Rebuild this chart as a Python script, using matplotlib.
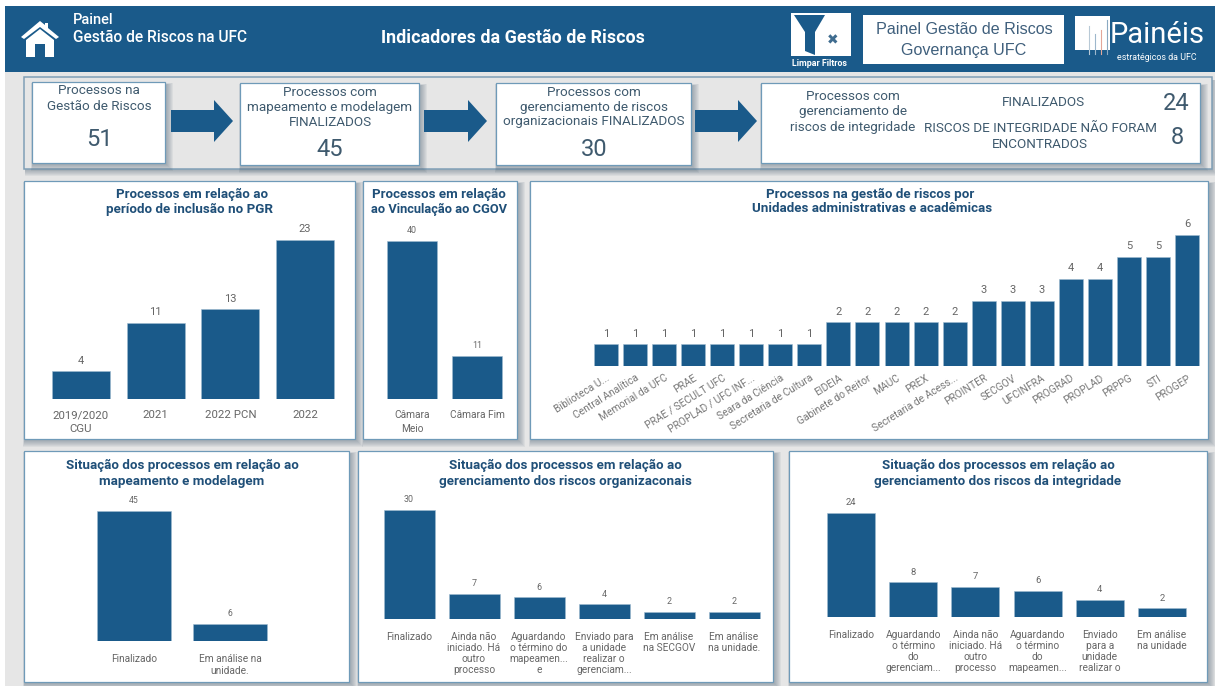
import matplotlib
matplotlib.use("Agg")
import matplotlib.pyplot as plt
from matplotlib.patches import Rectangle, Polygon

plt.rcParams['font.family'] = ['Roboto', 'DejaVu Sans']

W, H = 1215, 686
BLUE = '#1a5a8a'
EDGE = '#6f9ab8'
TXT = '#3f5a6e'
TITLE = '#1f4f78'
TICK = '#666666'

# ---- data ----
per_labels = ['2019/2020\nCGU', '2021', '2022 PCN', '2022']
per_values = [4, 11, 13, 23]
vin_labels = ['Câmara\nMeio', 'Câmara Fim']
vin_values = [40, 11]
uni_labels = ['Biblioteca U...', 'Central Analítica', 'Memorial da UFC', 'PRAE', 'PRAE / SECULT UFC',
              'PROPLAD / UFC INF...', 'Seara da Ciência', 'Secretaria de Cultura', 'EIDEIA',
              'Gabinete do Reitor', 'MAUC', 'PREX', 'Secretaria de Acess...', 'PROINTER', 'SECGOV',
              'UFCINFRA', 'PROGRAD', 'PROPLAD', 'PRPPG', 'STI', 'PROGEP']
uni_values = [1, 1, 1, 1, 1, 1, 1, 1, 2, 2, 2, 2, 2, 3, 3, 3, 4, 4, 5, 5, 6]
map_labels = ['Finalizado', 'Em análise na\nunidade.']
map_values = [45, 6]
org_labels = ['Finalizado', 'Ainda não\niniciado. Há\noutro\nprocesso',
              'Aguardando\no término do\nmapeamen...\ne', 'Enviado para\na unidade\nrealizar o\ngerenciam...',
              'Em análise\nna SECGOV', 'Em análise\nna unidade.']
org_values = [30, 7, 6, 4, 2, 2]
int_labels = ['Finalizado', 'Aguardando\no término\ndo\ngerenciam...', 'Ainda não\niniciado. Há\noutro\nprocesso',
              'Aguardando\no término\ndo\nmapeamen...', 'Enviado\npara a\nunidade\nrealizar o', 'Em análise\nna unidade']
int_values = [24, 8, 7, 6, 4, 2]

fig = plt.figure(figsize=(W / 100, H / 100), dpi=100, facecolor='white')
bg = fig.add_axes([0, 0, 1, 1], zorder=0)
bg.set_xlim(0, W)
bg.set_ylim(H, 0)
bg.axis('off')


def rect(x0, y0, x1, y1, fc='white', ec='none', lw=0, z=2, alpha=None):
    bg.add_patch(Rectangle((x0, y0), x1 - x0, y1 - y0, fc=fc, ec=ec, lw=lw, zorder=z, alpha=alpha))


def card(x0, y0, x1, y1, lw=0.9):
    for i in range(7, 0, -1):
        rect(x0 + 1 - i * .3, y0 + 3 - i * .3, x1 + 1 + i, y1 + 1 + i, fc='#55697a', alpha=.08, z=2)
    rect(x0, y0, x1, y1, fc='white', ec=EDGE, lw=lw, z=3)


def t(x, y, s, size=9, color=TXT, weight='normal', ha='center', va='center', **kw):
    bg.text(x, y, s, fontsize=size, color=color, fontweight=weight, ha=ha, va=va, zorder=6, **kw)


def arrow(x0, x1, yc):
    head = x1 - 19
    bg.add_patch(Polygon([(x0, yc - 11), (head, yc - 11), (head, yc - 21), (x1, yc), (head, yc + 21),
                          (head, yc + 11), (x0, yc + 11)], closed=True, fc=BLUE, ec='none', zorder=4))


# page
rect(5, 72, W, H, fc='#e6e6e6', z=1)
rect(5, 6, W, 72, fc=BLUE, z=2)

# header
bg.add_patch(Polygon([(21, 37), (40, 21), (45, 25), (45, 23), (48, 23), (48, 28), (59, 37), (56, 39), (40, 27), (24, 39)],
                     fc='white', zorder=4))
bg.add_patch(Polygon([(26, 40), (40, 29), (54, 40), (54, 57), (45, 57), (45, 44), (35, 44), (35, 57), (26, 57)],
                     fc='white', zorder=4))
t(73, 20, 'Painel', 10.5, 'white', 'medium', ha='left')
t(73, 38, 'Gestão de Riscos na UFC', 11.2, 'white', 'medium', ha='left')
t(513, 38, 'Indicadores da Gestão de Riscos', 12.9, 'white', 'bold')

rect(791, 13, 851, 56, z=3)
bg.add_patch(Polygon([(794, 15), (825, 15), (815, 32), (815, 55), (805, 51), (805, 32)], fc=BLUE, zorder=4))
t(833, 40, '✖', 10, '#3f6c8f')
t(820, 64, 'Limpar Filtros', 6.4, 'white', 'bold')
rect(863, 15, 1064, 64, z=3)
t(964, 30, 'Painel Gestão de Riscos', 11.6, '#3f5f7c', family='Liberation Sans')
t(964, 50, 'Governança UFC', 11.6, '#3f5f7c', family='Liberation Sans')
rect(1075, 16, 1110, 50, z=3)
for x, h, c in [(1089, 28, '#b8c9d6'), (1095, 20, '#9db7cc'), (1101, 24, '#e3a79a'), (1107, 34, '#8aa9c2')]:
    bg.plot([x, x], [54, 54 - h], color=c, lw=.8, zorder=4)
t(1157, 35, 'Painéis', 21, 'white', ha='center')
t(1157, 57, 'estratégicos da UFC', 6.4, 'white')

# KPI strip
for i in range(6, 0, -1):
    rect(25, 80, 1212 + i, 170 + i, fc='#55697a', alpha=.08, z=2)
rect(24, 77, 1212, 169, fc='#e6e6e6', ec='#7f9fb6', lw=1.1, z=2)
card(32, 82, 165, 163)
KF = 9.7
t(99, 91, 'Processos na', KF)
t(99, 106, 'Gestão de Riscos', KF)
t(99, 140, '51', 17)
arrow(171, 233, 121)
card(240, 83, 419, 165)
for y, s in zip([92, 107, 122], ['Processos com', 'mapeamento e modelagem', 'FINALIZADOS']):
    t(330, y, s, KF)
t(330, 149, '45', 17)
arrow(424, 487, 121)
card(496, 83, 691, 165)
for y, s in zip([92, 107, 122], ['Processos com', 'gerenciamento de riscos', 'organizacionais FINALIZADOS']):
    t(594, y, s, KF)
t(594, 149, '30', 17)
arrow(695, 757, 121)
card(761, 83, 1200, 163)
for y, s in zip([97, 112, 128], ['Processos com', 'gerenciamento de', 'riscos de integridade']):
    t(853, y, s, KF)
t(1043, 103, 'FINALIZADOS', KF)
t(1040, 128, 'RISCOS DE INTEGRIDADE NÃO FORAM', KF)
t(1040, 144, 'ENCONTRADOS', KF)
t(1176, 103, '24', 17)
t(1177, 138, '8', 17)

# chart panels
TF = 9.65
card(24, 181, 355, 439)
t(192, 194, 'Processos em relação ao', TF, TITLE, 'bold')
t(190, 209, 'período de inclusão no PGR', TF, TITLE, 'bold')
card(363, 181, 517, 439)
t(439, 194, 'Processos em relação', TF, TITLE, 'bold')
t(439, 209, 'ao Vinculação ao CGOV', 9.3, TITLE, 'bold')
card(530, 181, 1208, 439)
t(870, 194, 'Processos na gestão de riscos por', TF, TITLE, 'bold')
t(872, 209, 'Unidades administrativas e acadêmicas', TF, TITLE, 'bold')
card(24, 451, 349, 682)
t(182, 465, 'Situação dos processos em relação ao', TF, TITLE, 'bold')
t(182, 481, 'mapeamento e modelagem', TF, TITLE, 'bold')
card(358, 451, 773, 682)
t(565, 465, 'Situação dos processos em relação ao', TF, TITLE, 'bold')
t(565, 481, 'gerenciamento dos riscos organizaconais', TF, TITLE, 'bold')
card(789, 451, 1207, 682)
t(998, 465, 'Situação dos processos em relação ao', TF, TITLE, 'bold')
t(998, 481, 'gerenciamento dos riscos da integridade', TF, TITLE, 'bold')


def bars(first, last, base, top, width, labels, values, fs=7.3, rot=0, pad=10, lab_fs=6.8, ls=1.15):
    n = len(values)
    step = (last - first) / (n - 1)
    x0 = first - step / 2
    x1 = last + step / 2
    ax = fig.add_axes([x0 / W, 1 - base / H, (x1 - x0) / W, (base - top) / H], zorder=5)
    ax.patch.set_alpha(0)
    pos = list(range(n))
    b = ax.bar(pos, values, width=width / step, color=BLUE, edgecolor='#9fbbd0', linewidth=.4)
    ax.set_xlim(-.5, n - .5)
    ax.set_ylim(0, max(values))
    for s in ax.spines.values():
        s.set_visible(False)
    ax.set_yticks([])
    ax.set_xticks(pos)
    if rot:
        ax.set_xticklabels(labels, rotation=rot, ha='right', rotation_mode='anchor', fontsize=fs, color='#777777')
    else:
        ax.set_xticklabels(labels, fontsize=fs, color=TICK, linespacing=ls)
    ax.tick_params(axis='x', length=0, pad=pad)
    lb = ax.bar_label(b, padding=4, fontsize=lab_fs, color=TICK)
    for x in lb:
        x.set_clip_on(False)
    return ax


bars(81, 305, 399, 240, 58, per_labels, per_values, fs=8.2, pad=8, lab_fs=8, ls=1.45)
bars(412, 477, 399, 241, 50, vin_labels, vin_values, fs=7.3, pad=8, lab_fs=6.4, ls=1.45)
bars(606, 1187, 366, 235, 24, uni_labels, uni_values, fs=7.4, rot=32, pad=5, lab_fs=8)
bars(134, 230, 641, 511, 74, map_labels, map_values, fs=7.3, pad=9, lab_fs=6.2, ls=1.3)
bars(409, 734, 619, 510, 51, org_labels, org_values, fs=7.3, pad=9, lab_fs=6.4)
bars(851, 1162, 617, 513, 48, int_labels, int_values, fs=7.3, pad=9, lab_fs=6.8)

fig.savefig('out.png', dpi=100, facecolor='white')
